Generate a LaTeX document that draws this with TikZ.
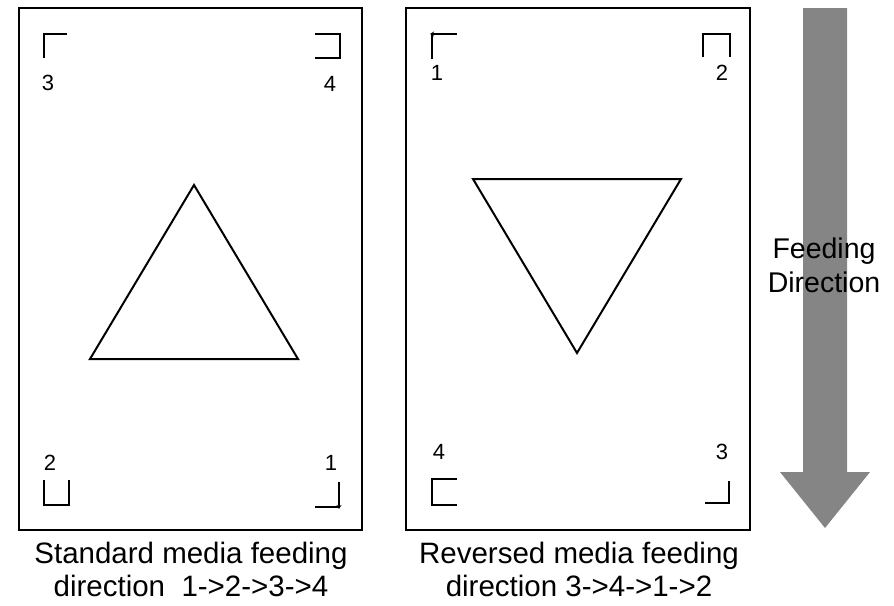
\documentclass[tikz,border=0pt]{standalone}
\usepackage{fontspec}
\setmainfont{Liberation Sans}
\usetikzlibrary{arrows.meta, calc}
\definecolor{feedgray}{HTML}{858585}
\tikzset{
    panel/.style={
        draw=black, line width=2.4pt
    },
    cropmark/.style={
        draw=black, line width=2.8pt
    },
    figure/.style={
        draw=black, line width=2pt
    },
    digit/.style={
        font=\fontsize{22}{25}\selectfont, inner sep=0pt
    },
    caption/.style={
        font=\fontsize{29.5}{33}\selectfont, align=center, inner sep=0pt
    },
    feedcaption/.style={
        font=\fontsize{28.5}{34}\selectfont, align=center, inner sep=0pt
    },
    feedarrow/.style={
        fill=feedgray, draw=none
    }
}
\begin{document}
\begin{tikzpicture}[x=1pt, y=-1pt]

    \useasboundingbox (0,0) rectangle (894,605);

    % ── Standard media (left) ──
    \draw[panel] (19,8) rectangle (362,530);
    \draw[figure] (194,185) -- (298,359) -- (90,359) -- cycle;

    \draw[cropmark] (44,58) -- (44,34) -- (67,34);
    \draw[cropmark] (315,34) -- (340,34) -- (340,58) -- (315,58);
    \draw[cropmark] (44,480) -- (44,505) -- (69,505) -- (69,480);
    \draw[cropmark] (315,507) -- (339,507);
    \draw[cropmark, -{Stealth[length=4pt, width=5pt]}] (339,482) -- (339,509);

    \node[digit] (s3) at (48,83)  {3};
    \node[digit] (s4) at (330,84) {4};
    \node[digit] (s2) at (50,463) {2};
    \node[digit] (s1) at (331,463) {1};

    \node[caption] (stdcap) at (191,569) {Standard media feeding\\direction\ \ 1->2->3->4};

    % ── Reversed media (right) ──
    \draw[panel] (406,8) rectangle (750,530);
    \draw[figure] (473,179) -- (681,179) -- (577,353) -- cycle;

    \draw[cropmark] (432,59) -- (432,33);
    \draw[cropmark, -{Stealth[length=4pt, width=5pt]}] (457,34) -- (430,34);
    \draw[cropmark] (703,57) -- (703,34) -- (730,34) -- (730,57);
    \draw[cropmark] (457,479) -- (432,479) -- (432,505) -- (457,505);
    \draw[cropmark] (705,503) -- (729,503) -- (729,481);

    \node[digit] (r1) at (437,73)  {1};
    \node[digit] (r2) at (722,73)  {2};
    \node[digit] (r4) at (439,452) {4};
    \node[digit] (r3) at (722,452) {3};

    \node[caption] (revcap) at (579,569) {Reversed media feeding\\direction 3->4->1->2};

    % ── Feeding direction arrow ──
    \fill[feedarrow] (803,8) -- (847,8) -- (847,472) -- (870,472)
        -- (825,528) -- (780,472) -- (803,472) -- cycle;
    \node[feedcaption] (feed) at (824,265) {Feeding\\Direction};

\end{tikzpicture}
\end{document}
